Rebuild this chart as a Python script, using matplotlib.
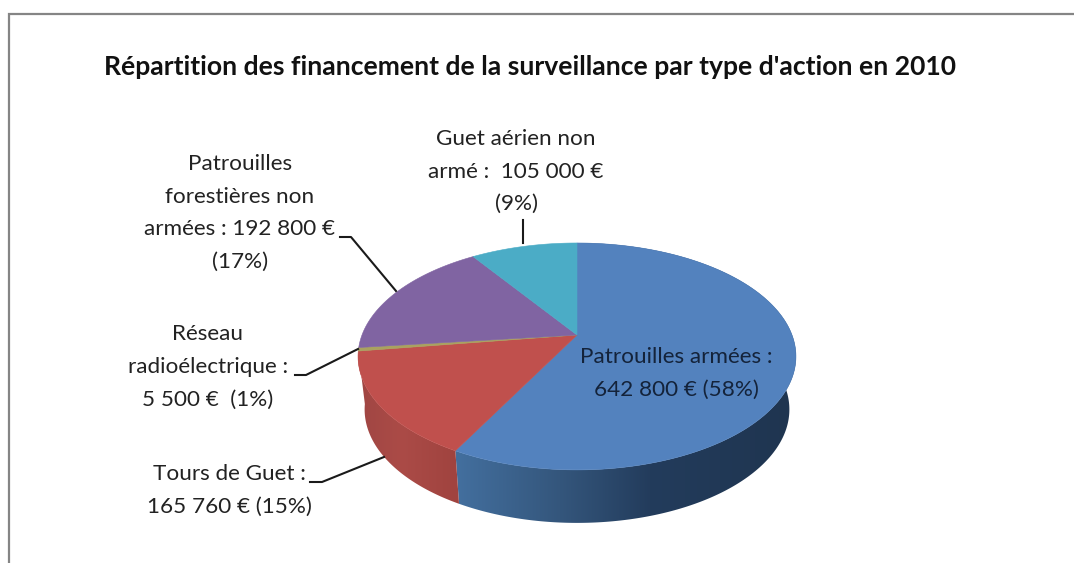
#!/usr/bin/env python3
# -*- coding: utf-8 -*-
"""Répartition des financements de la surveillance - camembert 3D (2010)."""

import numpy as np
import matplotlib
matplotlib.use("Agg")
import matplotlib.pyplot as plt
from matplotlib.colors import to_rgb
from matplotlib.patches import Polygon

# ---------------------------------------------------------------------------
# Data
# ---------------------------------------------------------------------------
categories = ["Patrouilles armées", "Tours de Guet", "Réseau radioélectrique",
              "Patrouilles forestières non armées", "Guet aérien non armé"]
amounts = [642800, 165760, 5500, 192800, 105000]
title = "Répartition des financement de la surveillance par type d'action en 2010"
labels = ["Patrouilles armées :\n642 800 € (58%)",
          "Tours de Guet :\n165 760 € (15%)",
          "Réseau\nradioélectrique :\n5 500 €  (1%)",
          "Patrouilles\nforestières non\narmées : 192 800 €\n(17%)",
          "Guet aérien non\narmé :  105 000 €\n(9%)"]

# ---------------------------------------------------------------------------
# Style / geometry (pixels, y going down)
# ---------------------------------------------------------------------------
colors = ["#5382BE", "#C0504D", "#A9A25F", "#8064A2", "#4BACC6"]
CX, CY = 577, 335      # apex of the pie
RX, RY = 215, 109.4    # radii before perspective
K = 0.189              # perspective strength
DEPTH = 53
BOTTOM_SCALE = 0.97
FONT = "Lato"

# horizontal shading of the outer wall, only the two front slices show it
wall_x = {0: [457, 560, 650, 790], 1: [360, 400, 457]}
wall_c = {0: ["#436F9E", "#34567C", "#233C5C", "#1F3550"],
          1: ["#A04643", "#AB4B47", "#A0433F"]}


def project(theta):
    """Angle clockwise from the top -> point on the perspective rim."""
    u, v = np.sin(theta), np.cos(theta)
    w = 1 + K * v
    return CX + RX * u / w, CY - RY * v / w


fig = plt.figure(figsize=(10.74, 5.63), dpi=100)
ax = fig.add_axes([0, 0, 1, 1])
ax.axis("off")

# chart frame, open on the right and at the bottom
ax.plot([9, 9, 1074], [563, 14, 14], color="#858585", lw=1.6, solid_joinstyle="miter")

# ---------------------------------------------------------------------------
# Slices
# ---------------------------------------------------------------------------
fractions = np.array(amounts) / sum(amounts)
edges = np.concatenate([[0], np.cumsum(fractions)]) * 2 * np.pi

# outer wall first, gradient image clipped to the wall outline
for i in wall_x:
    th = np.linspace(edges[i], edges[i + 1], 300)
    x, y = project(th)
    xb = CX + BOTTOM_SCALE * (x - CX)
    yb = y + DEPTH
    pts = np.column_stack([np.r_[x, xb[::-1]], np.r_[y, yb[::-1]]])
    wall = Polygon(pts, closed=True, facecolor="none", edgecolor="none", transform=ax.transData)
    ax.add_patch(wall)
    xs = np.arange(300, 820)
    rgb = np.array([to_rgb(c) for c in wall_c[i]])
    grad = np.stack([np.interp(xs, wall_x[i], rgb[:, k]) for k in range(3)], axis=-1)
    im = ax.imshow(grad[np.newaxis, :, :], extent=[300, 820, 560, 200], aspect="auto",
                   interpolation="bilinear", zorder=2)
    im.set_clip_path(wall)

# top faces
for i in range(len(amounts)):
    th = np.linspace(edges[i], edges[i + 1], 200)
    x, y = project(th)
    pts = np.column_stack([np.r_[CX, x], np.r_[CY, y]])
    ax.add_patch(Polygon(pts, closed=True, facecolor=colors[i], edgecolor=colors[i],
                         lw=0.4, zorder=3))

# ---------------------------------------------------------------------------
# Leader lines
# ---------------------------------------------------------------------------
leaders = [([310, 322, 384], [482, 482, 457]),
           ([295, 306, 358], [375, 375, 349]),
           ([340, 351, 396], [237, 237, 291]),
           ([523, 523], [220, 243])]
for lx, ly in leaders:
    ax.plot(lx, ly, color="#1a1a1a", lw=1.5, zorder=4)

# ---------------------------------------------------------------------------
# Text
# ---------------------------------------------------------------------------
ax.text(530, 67, title, family=FONT, weight="bold", fontsize=19.1, color="#111111",
        ha="center", va="center")
label_pos = [(676, 373), (229, 490), (208, 367), (240, 213), (516, 171.5)]
label_col = ["#14233A", "#222222", "#222222", "#222222", "#222222"]
for text, (lx, ly), col in zip(labels, label_pos, label_col):
    ax.text(lx, ly, text, family=FONT, fontsize=16.2, color=col, ha="center", va="center",
            linespacing=1.8, zorder=5)

ax.set_xlim(0, 1074)
ax.set_ylim(563, 0)

plt.savefig("out.png", dpi=100, facecolor="white")
